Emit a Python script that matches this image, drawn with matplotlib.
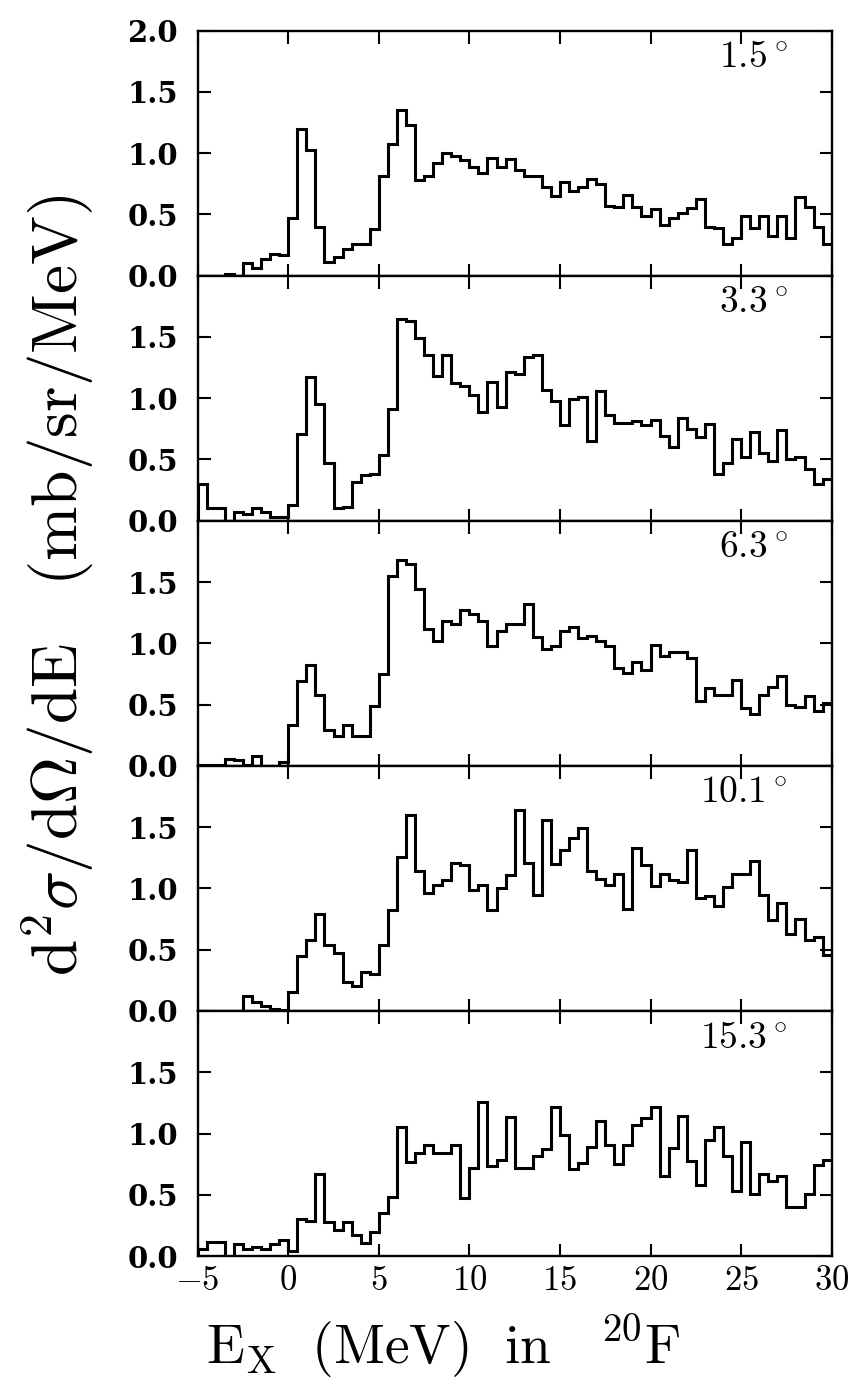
import numpy as np
import matplotlib
matplotlib.use('Agg')
import matplotlib.pyplot as plt
from matplotlib.ticker import FuncFormatter

plt.rcParams['mathtext.fontset'] = 'cm'
plt.rcParams['font.family'] = 'DejaVu Serif'

# bin edges: 0.5 MeV bins from -5 to 30 MeV
edges = np.arange(-5.0, 30.01, 0.5)

angles = ['1.5', '3.3', '6.3', '10.1', '15.3']

# cross sections (mb/sr/MeV), one value per bin
xs_1p5 = [0, 0, 0, 0.015, 0, 0.105, 0.064, 0.139, 0.18, 0.17,
          0.467, 1.2, 1.025, 0.394, 0.114, 0.15, 0.22, 0.26, 0.26, 0.38,
          0.81, 1.075, 1.35, 1.23, 0.78, 0.81, 0.92, 1.0, 0.98, 0.94,
          0.89, 0.84, 0.96, 0.89, 0.95, 0.86, 0.81, 0.81, 0.72, 0.65,
          0.76, 0.69, 0.72, 0.79, 0.75, 0.57, 0.56, 0.66, 0.56, 0.49,
          0.54, 0.41, 0.47, 0.51, 0.55, 0.625, 0.40, 0.39, 0.255, 0.305,
          0.49, 0.39, 0.49, 0.32, 0.49, 0.305, 0.645, 0.56, 0.40, 0.26]

xs_3p3 = [0.30, 0.10, 0.10, 0, 0.07, 0.055, 0.10, 0.07, 0.03, 0.03,
          0.13, 0.71, 1.17, 0.95, 0.47, 0.10, 0.115, 0.32, 0.37, 0.38,
          0.54, 0.91, 1.65, 1.63, 1.49, 1.35, 1.18, 1.35, 1.12, 1.10,
          1.03, 0.89, 1.13, 0.93, 1.21, 1.20, 1.34, 1.35, 1.07, 0.98,
          0.78, 0.99, 1.01, 0.65, 1.06, 0.86, 0.80, 0.80, 0.81, 0.78,
          0.82, 0.69, 0.60, 0.84, 0.75, 0.68, 0.79, 0.38, 0.47, 0.67,
          0.52, 0.72, 0.55, 0.49, 0.74, 0.50, 0.52, 0.42, 0.30, 0.34]

xs_6p3 = [0.01, 0.01, 0.01, 0.055, 0.045, 0.01, 0.08, 0, 0, 0.03,
          0.335, 0.69, 0.82, 0.58, 0.29, 0.24, 0.335, 0.24, 0.24, 0.49,
          0.75, 1.545, 1.68, 1.65, 1.44, 1.12, 1.02, 1.18, 1.16, 1.27,
          1.24, 1.18, 0.98, 1.10, 1.16, 1.16, 1.32, 1.05, 0.95, 0.98,
          1.10, 1.13, 1.04, 1.06, 1.02, 0.98, 0.80, 0.76, 0.85, 0.78,
          0.99, 0.90, 0.93, 0.93, 0.88, 0.53, 0.635, 0.58, 0.58, 0.70,
          0.47, 0.42, 0.58, 0.64, 0.735, 0.50, 0.48, 0.57, 0.45, 0.51]

xs_10p1 = [0, 0, 0, 0, 0, 0.12, 0.075, 0.04, 0.02, 0.005,
           0.155, 0.45, 0.575, 0.79, 0.54, 0.47, 0.235, 0.20, 0.32, 0.30,
           0.54, 0.82, 1.26, 1.60, 1.14, 0.965, 1.03, 1.07, 1.21, 1.19,
           0.99, 1.03, 0.82, 1.00, 1.11, 1.64, 1.21, 0.95, 1.56, 1.20,
           1.31, 1.41, 1.49, 1.14, 1.08, 1.03, 1.12, 0.83, 1.33, 1.19,
           1.02, 1.12, 1.07, 1.05, 1.31, 0.92, 0.94, 0.86, 1.01, 1.12,
           1.12, 1.22, 0.95, 0.74, 0.88, 0.63, 0.75, 0.58, 0.60, 0.46]

xs_15p3 = [0.06, 0.115, 0.115, 0, 0.10, 0.06, 0.075, 0.06, 0.095, 0.13,
           0.04, 0.30, 0.29, 0.67, 0.28, 0.21, 0.28, 0.175, 0.11, 0.195,
           0.35, 0.48, 1.05, 0.77, 0.84, 0.905, 0.84, 0.84, 0.905, 0.47,
           0.72, 1.26, 0.735, 0.78, 1.135, 0.72, 0.72, 0.82, 0.87, 1.22,
           0.99, 0.71, 0.76, 0.89, 1.10, 0.905, 0.75, 0.905, 1.07, 1.13,
           1.22, 0.65, 0.88, 1.14, 0.775, 0.58, 0.95, 1.05, 0.82, 0.53,
           0.93, 0.505, 0.67, 0.61, 0.65, 0.40, 0.40, 0.505, 0.74, 0.78]

spectra = [xs_1p5, xs_3p3, xs_6p3, xs_10p1, xs_15p3]

fig, axes = plt.subplots(5, 1, figsize=(8.5, 13.87), dpi=100, sharex=True,
                         gridspec_kw={'hspace': 0})
fig.subplots_adjust(left=0.2325, right=0.9785, top=0.978, bottom=0.0944)

for i, ax in enumerate(axes):
    ax.stairs(spectra[i], edges, color='black', lw=2.2)
    ax.set_xlim(-5, 30)
    ax.set_ylim(0, 2.0)
    ax.set_xticks([-5, 0, 5, 10, 15, 20, 25, 30])
    if i == 0:
        ax.set_yticks([0, 0.5, 1.0, 1.5, 2.0])
    else:
        ax.set_yticks([0, 0.5, 1.0, 1.5])
    ax.yaxis.set_major_formatter(FuncFormatter(lambda v, p: '%.1f' % v))
    ax.xaxis.set_major_formatter(FuncFormatter(lambda v, p: r'$%d$' % v))
    ax.tick_params(direction='in', length=9, width=1.5, top=True, right=True)
    ax.tick_params(axis='y', labelsize=21, pad=14)
    ax.tick_params(axis='x', labelsize=25, pad=5)
    for lab in ax.get_yticklabels():
        lab.set_fontweight('bold')
    for s in ax.spines.values():
        s.set_linewidth(1.7)
    ax.text(0.93, 0.965, r'$%s\,^{\circ}$' % angles[i], transform=ax.transAxes,
            ha='right', va='top', fontsize=27)

fig.text(0.068, 0.578, r'$\mathrm{d^2\sigma/d\Omega/dE\ \ \ (mb/sr/MeV)}$',
         rotation=90, ha='center', va='center', fontsize=47)
fig.text(0.522, 0.016, r'$\mathrm{E_X\ \ (MeV)\ \ in\ \ \ ^{20}F}$',
         ha='center', va='baseline', fontsize=40)

plt.savefig('out.png', dpi=100)
